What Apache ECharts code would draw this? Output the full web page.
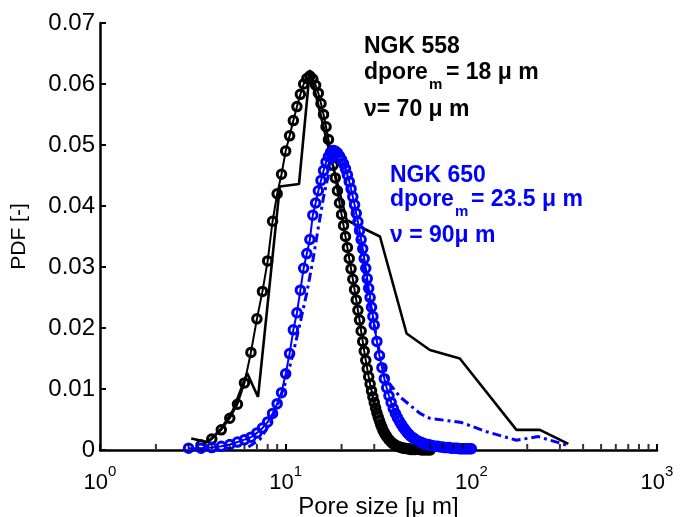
<!DOCTYPE html>
<html><head><meta charset="utf-8">
<script src="https://cdn.jsdelivr.net/npm/echarts@6/dist/echarts.min.js"></script>
<style>html,body{margin:0;padding:0;background:#fff}#c{width:681px;height:517px}</style>
</head><body><div id="c"></div>
<script>
// ---- data ----
const xTickVals = [1, 10, 100, 1000];
const minorTickVals = [2,3,4,5,6,7,8,9,20,30,40,50,60,70,80,90,200,300,400,500,600,700,800,900];
const yTickVals = [0, 0.01, 0.02, 0.03, 0.04, 0.05, 0.06, 0.07];

// NGK 558 model (black circles)
const ngk558ModelX = [3.5,4,4.5,5,5.5,6,6.5,7,7.5,8,8.5,9,9.5,10,10.5,11,11.5,12,12.5,13,13.5,14,14.5,15,15.5,16,16.5,17,17.5,18,18.5,19,19.5,20,20.5,21,21.5,22,22.5,23,23.5,24,24.5,25,25.5,26,26.5,27,27.5,28,28.5,29,29.5,30,30.5,31,31.5,32,32.5,33,33.5,34,34.5,35,36,37,38,39,40,41,42,43,44,45,46,47,48,49,50,52,54,56,58,60];
const ngk558ModelY = [0.0008,0.0018,0.0033,0.0052,0.0075,0.0110,0.0160,0.0215,0.0260,0.0310,0.0375,0.0420,0.0452,0.0490,0.0515,0.0540,0.0563,0.0583,0.0600,0.0609,0.0613,0.0608,0.0598,0.0585,0.0568,0.0550,0.0530,0.0509,0.0488,0.0467,0.0446,0.0425,0.0405,0.0386,0.0368,0.0350,0.0332,0.0314,0.0297,0.0280,0.0263,0.0246,0.0229,0.0213,0.0195,0.0178,0.0162,0.0147,0.0133,0.0120,0.0108,0.0097,0.0087,0.0078,0.0069,0.0061,0.0054,0.0048,0.0042,0.0037,0.0032,0.0028,0.0025,0.0022,0.0017,0.0013,0.0010,0.0008,0.0006,0.0005,0.0004,0.0003,0.0003,0.0002,0.0002,0.0001,0.0001,0.0001,0.0001,0.0001,0,0,0,0];

// NGK 558 measured (black solid line)
const ngk558MeasX = [3.1,3.8,4.5,5.2,6.2,7.1,9.3,11.8,13.5,17.5,21.3,25.1,32.2,44.8,59.8,86.7,175,234,333];
const ngk558MeasY = [0.0019,0.0013,0.0035,0.0065,0.0126,0.0087,0.0432,0.0436,0.0623,0.0480,0.0377,0.0366,0.0350,0.0191,0.0164,0.0150,0.0033,0.0033,0.0010];

// NGK 650 model (blue circles)
const ngk650ModelX = [3,3.5,4,4.5,5,5.5,6,6.5,7,7.5,8,8.5,9,9.5,10,10.5,11,11.5,12,12.5,13,13.5,14,14.5,15,15.5,16,16.5,17,17.5,18,18.5,19,19.5,20,20.5,21,21.5,22,22.5,23,23.5,24,24.5,25,25.5,26,26.5,27,27.5,28,28.5,29,29.5,30,31,32,33,34,35,36,37,38,39,40,41,42,43,44,45,46,47,48,49,50,51,52,53,54,55,56,57,58,59,60,62,64,66,68,70,72,74,76,78,80,82,84,86,88,90,92,94,96,98,100];
const ngk650ModelY = [0.0003,0.0003,0.0004,0.0006,0.0009,0.0013,0.0017,0.0021,0.0028,0.0036,0.0046,0.0060,0.0076,0.0094,0.0125,0.0158,0.0197,0.0225,0.0262,0.0298,0.0322,0.0345,0.0385,0.0405,0.0425,0.0442,0.0458,0.0472,0.0481,0.0488,0.0491,0.0490,0.0487,0.0482,0.0476,0.0469,0.0461,0.0451,0.0440,0.0428,0.0415,0.0402,0.0388,0.0374,0.0360,0.0345,0.0330,0.0314,0.0298,0.0281,0.0265,0.0250,0.0234,0.0219,0.0205,0.0178,0.0155,0.0135,0.0117,0.0102,0.0089,0.0078,0.0068,0.0060,0.0053,0.0047,0.0042,0.0037,0.0033,0.0029,0.0026,0.0023,0.0021,0.0019,0.0017,0.0015,0.0014,0.0013,0.0012,0.0011,0.0010,0.0009,0.0009,0.0008,0.0008,0.0007,0.0006,0.0006,0.0005,0.0005,0.0004,0.0004,0.0004,0.0003,0.0003,0.0003,0.0003,0.0002,0.0002,0.0002,0.0002,0.0002,0.0002,0.0002,0.0002];

// NGK 650 measured (blue dash-dot line)
const ngk650MeasX = [6.3,7.3,8.3,9.2,10.1,11,12,13,14,15,16,17.2,18.5,20,22,25,28,32,36,41.3,52.9,59.8,88.7,120.8,175,229,326];
const ngk650MeasY = [0.0005,0.0018,0.0045,0.0080,0.0115,0.0160,0.0210,0.0258,0.0310,0.0365,0.0415,0.0458,0.0480,0.0462,0.0420,0.0340,0.0250,0.0160,0.0110,0.0087,0.0060,0.0052,0.0045,0.0030,0.0016,0.0022,0.0008];

// ---- chart ----
const zip = (xs, ys) => xs.map((x, i) => [x, ys[i]]);
const BLUE = '#0000ff';
const FONT = '"Liberation Sans", Arial, Helvetica, sans-serif';
const chart = echarts.init(document.getElementById('c'), null, {renderer: 'canvas'});

const circleSeries = (name, data, color, z) => ({
  name, type: 'line', data, z,
  symbol: 'circle', symbolSize: 8.5, showAllSymbol: true,
  itemStyle: {color: 'rgba(0,0,0,0)', borderColor: color, borderWidth: 3},
  lineStyle: {color: color, width: 2},
  emphasis: {disabled: true}, silent: true
});

const annot = (text, x, y, size, color) => ({
  type: 'text', x, y, silent: true,
  style: {text, font: 'bold ' + size + 'px ' + FONT, fill: color, verticalAlign: 'middle'}
});

chart.setOption({
  animation: false,
  backgroundColor: '#fff',
  textStyle: {fontFamily: FONT},
  grid: {left: 100, right: 24, top: 23, bottom: 67, containLabel: false, outerBoundsMode: 'none'},
  xAxis: {
    type: 'log', logBase: 10, min: 1, max: 1000, splitNumber: 3,
    name: 'Pore size [\u03bc m]', nameLocation: 'middle', nameGap: 45, nameMoveOverlap: false,
    nameTextStyle: {fontSize: 24, color: '#000', fontFamily: FONT},
    axisLine: {show: true, onZero: false, lineStyle: {color: '#000', width: 2.5}},
    axisTick: {show: true, inside: true, length: 6, lineStyle: {color: '#000', width: 2}},
    splitLine: {show: false},
    axisLabel: {
      color: '#000', margin: 14, fontFamily: FONT,
      formatter: v => '{b|10}{e|' + Math.round(Math.log10(v)) + '}',
      rich: {
        b: {fontSize: 22, lineHeight: 30, verticalAlign: 'bottom', color: '#000', fontFamily: FONT},
        e: {fontSize: 15, verticalAlign: 'top', color: '#000', fontFamily: FONT}
      }
    }
  },
  yAxis: {
    type: 'value', min: 0, max: 0.07, interval: 0.01,
    name: 'PDF [-]', nameLocation: 'middle', nameGap: 70, nameMoveOverlap: false,
    nameTextStyle: {fontSize: 21, color: '#000', fontFamily: FONT},
    axisLine: {show: true, lineStyle: {color: '#000', width: 2.5}},
    axisTick: {show: true, inside: true, length: 6, lineStyle: {color: '#000', width: 2}},
    splitLine: {show: false},
    axisLabel: {color: '#000', fontSize: 24, margin: 5, fontFamily: FONT,
      formatter: v => v === 0 ? '0' : v.toFixed(2)}
  },
  series: [
    circleSeries('NGK 558 model', zip(ngk558ModelX, ngk558ModelY), '#000', 2),
    {name: 'NGK 558 measured', type: 'line', z: 3, data: zip(ngk558MeasX, ngk558MeasY),
     symbol: 'none', lineStyle: {color: '#000', width: 2.6}, silent: true},
    circleSeries('NGK 650 model', zip(ngk650ModelX, ngk650ModelY), BLUE, 4),
    {name: 'NGK 650 measured', type: 'line', z: 5, data: zip(ngk650MeasX, ngk650MeasY),
     symbol: 'none', lineStyle: {color: BLUE, width: 3, type: [9, 4, 3, 4]}, silent: true},
    {name: 'minor ticks', type: 'scatter', z: 6, silent: true,
     data: minorTickVals.map(v => [v, 0]),
     symbol: 'rect', symbolSize: [2, 5], symbolOffset: [0, -3.5],
     itemStyle: {color: '#000'}}
  ],
  graphic: [
    annot('NGK 558', 364, 47, 23, '#000'),
    annot('dpore', 364, 73, 23, '#000'),
    annot('m', 429, 85, 15, '#000'),
    annot('= 18 \u03bc m', 446, 73, 23, '#000'),
    annot('\u03bd= 70 \u03bc m', 364, 110, 23, '#000'),
    annot('NGK 650', 390, 176, 23, BLUE),
    annot('dpore', 390, 200, 23, BLUE),
    annot('m', 455, 212, 15, BLUE),
    annot('= 23.5 \u03bc m', 471, 200, 23, BLUE),
    annot('\u03bd = 90\u03bc m', 390, 236, 23, BLUE)
  ]
});
</script>
</body></html>
